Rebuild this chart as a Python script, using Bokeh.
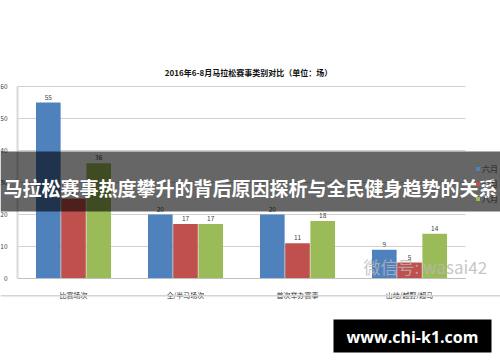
from bokeh.plotting import figure
from bokeh.models import (Range1d, BoxAnnotation, Label, Legend,
                          LegendItem, ColumnDataSource, FixedTicker)
from bokeh.transform import dodge
from bokeh.core.properties import value
from bokeh.embed import file_html
from bokeh.resources import INLINE

categories = ["比赛场次", "全/半马场次", "首次举办赛事", "山地/越野/超马"]
months = ["六月", "七月", "八月"]
june = [55, 20, 20, 9]
july = [25, 17, 11, 5]
august = [36, 17, 18, 14]
y_ticks = [0, 10, 20, 30, 40, 50, 60]
title_text = "2016年6-8月马拉松赛事类别对比（单位：场）"
banner_text = "马拉松赛事热度攀升的背后原因探析与全民健身趋势的关系"
watermark_text = "微信号: wasai42"
url_text = "www.chi-k1.com"

colors = ["#4f81bd", "#c0504d", "#9bbb59"]
CJK = "Noto Sans CJK SC"

W, H = 500, 362
L, R, T, B = 17, 465, 86, 278
NCAT = len(categories)
YMAX = 60


def xs(px):
    return (px - L) / (R - L) * NCAT


def ys(py):
    return (B - py) / (B - T) * YMAX


cat_pos = [i + 0.5 for i in range(NCAT)]

p = figure(width=W, height=H,
           x_range=Range1d(xs(0), xs(W)),
           y_range=Range1d(ys(H), ys(0)),
           output_backend="svg", toolbar_location=None,
           min_border=0, min_border_left=0, min_border_right=0,
           min_border_top=0, min_border_bottom=0,
           outline_line_color=None, background_fill_color="white",
           border_fill_color="white")

src = ColumnDataSource(dict(pos=cat_pos, june=june, july=july, august=august,
                            june_l=[str(v) for v in june],
                            july_l=[str(v) for v in july],
                            august_l=[str(v) for v in august]))

offsets = [-0.225, 0.0, 0.225]
fields = ["june", "july", "august"]
rends = []
for f, off, c in zip(fields, offsets, colors):
    r = p.vbar(x=dodge("pos", off), top=f, width=0.22,
               source=src, fill_color=c, line_color=None)
    rends.append(r)
    p.text(x=dodge("pos", off), y=f, text=f + "_l", source=src,
           text_align="center", text_baseline="bottom", y_offset=-3,
           text_font_size="6.5px", text_color="#404040",
           text_font=value(CJK))

# axes, pinned inside the full-canvas frame
p.yaxis.ticker = FixedTicker(ticks=y_ticks)
p.yaxis.fixed_location = 0
p.yaxis.bounds = (0, YMAX)
p.yaxis.axis_line_color = "#d9d9d9"
p.yaxis.axis_line_width = 2
p.yaxis.major_tick_line_color = None
p.yaxis.minor_tick_line_color = None
p.yaxis.major_label_text_font_size = "6.5px"
p.yaxis.major_label_text_color = "#404040"
p.yaxis.major_label_text_font = CJK
p.yaxis.major_label_standoff = 4

p.xaxis.ticker = FixedTicker(ticks=cat_pos)
p.xaxis.major_label_overrides = {pos: name for pos, name in zip(cat_pos, categories)}
p.xaxis.fixed_location = 0
p.xaxis.bounds = (0, NCAT)
p.xaxis.axis_line_color = "#bfbfbf"
p.xaxis.major_tick_line_color = None
p.xaxis.minor_tick_line_color = None
p.xaxis.major_label_text_font_size = "7px"
p.xaxis.major_label_text_color = "#333333"
p.xaxis.major_label_text_font = CJK
p.xaxis.major_label_standoff = 5

p.xgrid.grid_line_color = None
p.ygrid.grid_line_color = "#d0d0d0"
p.ygrid.grid_line_width = 1
p.ygrid.bounds = (0, YMAX)
if "cross_bounds" in p.ygrid[0].properties():
    p.ygrid.cross_bounds = (0, NCAT)
else:
    p.ygrid.grid_line_color = None
    p.segment(x0=[0] * len(y_ticks), x1=[NCAT] * len(y_ticks), y0=y_ticks, y1=y_ticks,
              line_color="#d0d0d0", line_width=1)

# legend
legend = Legend(items=[LegendItem(label=m, renderers=[r]) for m, r in zip(months, rends)],
                location=(475, H - 204), orientation="vertical",
                glyph_width=5, glyph_height=5, label_height=9, spacing=4,
                label_standoff=2, padding=0, margin=0,
                border_line_color=None, background_fill_alpha=0,
                label_text_font_size="8px", label_text_font=CJK,
                label_text_color="#222222")
p.add_layout(legend)

# title
p.add_layout(Label(x=xs(248), y=ys(72), text=title_text, text_align="center",
                   text_baseline="middle", text_font_size="8px",
                   text_font_style="bold", text_color="#111111",
                   text_font=CJK))

# bottom border line of chart image
p.add_layout(BoxAnnotation(left=xs(0), right=xs(500), top=ys(294.5), bottom=ys(296),
                           fill_color="#d4d4d4", fill_alpha=1, line_color=None))

# watermark
p.add_layout(Label(x=xs(363), y=ys(266), text=watermark_text, text_align="left",
                   text_baseline="middle", text_font_size="17px",
                   text_color="#b8b8b8", text_alpha=0.8, text_font=CJK))

# banner
p.add_layout(BoxAnnotation(left=xs(0), right=xs(500), top=ys(151), bottom=ys(211),
                           fill_color="black", fill_alpha=0.6, line_color=None))
p.add_layout(Label(x=xs(250), y=ys(187), text=banner_text, text_align="center",
                   text_baseline="middle", text_font_size="19px",
                   text_font_style="bold", text_color="white",
                   text_font=CJK))

# url box
p.add_layout(BoxAnnotation(left=xs(333), right=xs(491), top=ys(319), bottom=ys(352),
                           fill_color="black", fill_alpha=1, line_color=None))
p.add_layout(Label(x=xs(412), y=ys(336), text=url_text, text_align="center",
                   text_baseline="middle", text_font_size="16px",
                   text_font_style="bold", text_color="white",
                   text_font="Open Sans"))

open("out.html", "w").write(file_html(p, INLINE))
